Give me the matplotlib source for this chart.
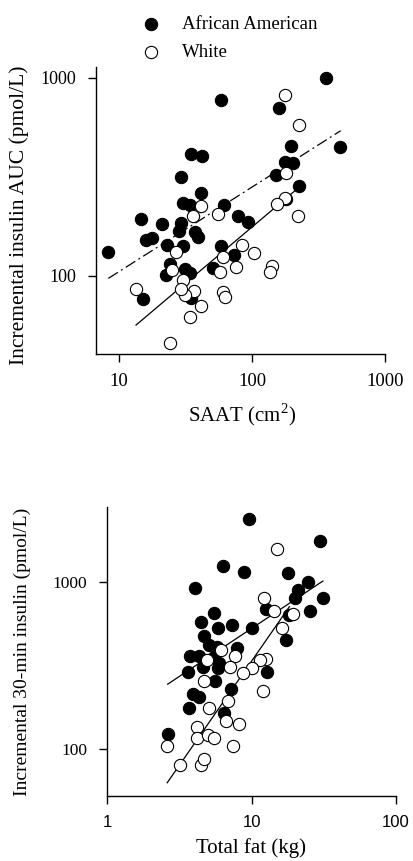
import matplotlib
matplotlib.use("Agg")
import matplotlib.pyplot as plt
from matplotlib.ticker import FixedLocator, FixedFormatter, NullLocator

# ---------------- data: top panel (SAAT vs incremental insulin AUC) ----------------
aa_saat = [358, 58, 160, 460, 195, 35, 42, 177, 202, 151, 29, 227, 41, 180, 30, 34, 62,
           79, 94, 14.5, 21, 29, 28, 37.5, 39, 16, 17.7, 23, 30, 8.3, 58, 73, 24, 22.5,
           31.5, 34, 51, 15, 35]
aa_auc = [1000, 770, 700, 445, 450, 410, 400, 377, 372, 323, 314, 284, 262, 243, 232, 228,
          228, 200, 187, 193, 182, 185, 169, 167, 157, 151, 155, 143, 141, 132, 141, 127,
          115, 101, 108, 103, 110, 76, 77]
w_saat = [177, 227, 180, 177, 153, 223, 41, 36, 55, 27, 84, 104, 60, 76, 141, 136, 57, 25,
          30, 13.4, 36.5, 31.5, 29, 60, 63, 41, 34, 24]
w_auc = [820, 577, 330, 247, 230, 201, 225, 200, 205, 132, 143, 131, 125, 111, 112, 104,
         105, 107, 95, 86, 84, 80, 86, 83, 78, 70, 62, 46]
# regression lines
top_aa_fit_x = [8.3, 464]
top_aa_fit_y = [97, 539]
top_w_fit_x = [13.4, 218]
top_w_fit_y = [56.4, 274]

# ---------------- data: bottom panel (total fat vs 30-min insulin) ----------------
aa_fat = [9.6, 30, 6.4, 8.9, 17.8, 4.06, 24.7, 20.9, 19.9, 31, 25.6, 12.6, 18.1, 5.5, 4.45,
          5.85, 7.3, 10, 17.3, 4.67, 5.1, 5.8, 8.0, 3.75, 4.36, 5.54, 6.0, 4.65, 5.9, 3.62,
          5.63, 12.9, 7.2, 3.92, 4.3, 3.67, 6.43, 2.66]
aa_ins30 = [2390, 1770, 1260, 1150, 1140, 930, 1010, 905, 800, 810, 675, 695, 637, 652, 580,
            532, 552, 530, 450, 476, 421, 411, 401, 364, 361, 358, 330, 312, 305, 291,
            256, 291, 228, 215, 206, 177, 164, 123]
w_fat = [15, 12.25, 14.3, 19.5, 16.2, 6.17, 7.7, 4.96, 7.15, 12.6, 11.5, 10.1, 8.8, 4.67,
         12, 6.85, 5.08, 6.64, 8.15, 4.19, 4.17, 5.03, 5.54, 7.4, 2.59, 3.2, 4.48, 4.72]
w_ins30 = [1590, 810, 670, 648, 535, 393, 360, 342, 310, 348, 344, 305, 285, 255, 223, 195,
           176, 147, 142, 135, 116, 121, 116, 104, 104, 80, 80, 87]
bot_aa_fit_x = [2.63, 31.2]
bot_aa_fit_y = [245, 1018]
bot_w_fit_x = [2.61, 18.3]
bot_w_fit_y = [62.8, 715]

# ---------------- labels ----------------
legend_labels = ["African American", "White"]
top_xlabel = "SAAT (cm$^2$)"
top_ylabel = "Incremental insulin AUC (pmol/L)"
bot_xlabel = "Total fat (kg)"
bot_ylabel = "Incremental 30-min insulin (pmol/L)"
top_xticks = [10, 100, 1000]
top_yticks = [100, 1000]
bot_xticks = [1, 10, 100]
bot_yticks = [100, 1000]

SERIF = ["Liberation Serif", "DejaVu Serif"]
SANS = ["Liberation Sans", "DejaVu Sans"]
plt.rcParams["font.family"] = SERIF
plt.rcParams["mathtext.fontset"] = "custom"
plt.rcParams["mathtext.rm"] = "Liberation Serif"

W, H = 413, 861
fig = plt.figure(figsize=(W / 100, H / 100), dpi=100)


def px_axes(left, top, right, bottom):
    return fig.add_axes([left / W, 1 - bottom / H, (right - left) / W, (bottom - top) / H])


MS = 78
LW_EDGE = 0.8


def style(ax, xt, yt, xfont, yfont, xsize, ysize):
    for s in ("top", "right"):
        ax.spines[s].set_visible(False)
    for s in ("left", "bottom"):
        ax.spines[s].set_linewidth(1.0)
    ax.set_xscale("log")
    ax.set_yscale("log")
    ax.xaxis.set_major_locator(FixedLocator(xt))
    ax.xaxis.set_major_formatter(FixedFormatter([str(v) for v in xt]))
    ax.yaxis.set_major_locator(FixedLocator(yt))
    ax.yaxis.set_major_formatter(FixedFormatter([str(v) for v in yt]))
    ax.xaxis.set_minor_locator(NullLocator())
    ax.yaxis.set_minor_locator(NullLocator())
    ax.tick_params(axis="both", direction="out", length=6, width=1.0)
    ax.tick_params(axis="x", labelsize=xsize)
    ax.tick_params(axis="y", labelsize=ysize)
    for lab in ax.get_xticklabels():
        lab.set_family(xfont)
    for lab in ax.get_yticklabels():
        lab.set_family(yfont)


# ---------------- top panel ----------------
ax1 = px_axes(96, 67, 385, 354)
ax1.plot(top_aa_fit_x, top_aa_fit_y, color="black", lw=0.9,
         linestyle=(0, (9, 3, 1.5, 3)), zorder=1)
ax1.plot(top_w_fit_x, top_w_fit_y, color="black", lw=0.9, linestyle="-", zorder=1)
h_aa = ax1.scatter(aa_saat, aa_auc, s=MS, c="black", edgecolors="black",
                   linewidths=LW_EDGE, zorder=3, label=legend_labels[0])
h_w = ax1.scatter(w_saat, w_auc, s=MS, c="white", edgecolors="black",
                  linewidths=LW_EDGE, zorder=4, label=legend_labels[1])
ax1.set_xlim(6.7, 1000)
ax1.set_ylim(40.3, 1130)
style(ax1, top_xticks, top_yticks, SERIF, SERIF, 13.5, 13)
ax1.tick_params(axis="x", pad=7.5)
ax1.tick_params(axis="y", pad=8)
ax1.set_xlabel(top_xlabel, fontsize=15)
ax1.set_ylabel(top_ylabel, fontsize=15.5)
ax1.xaxis.set_label_coords((241.7 - 96) / 289, (354 - 415) / 287)
ax1.xaxis.label.set_va("center")
ax1.yaxis.set_label_coords((19 - 96) / 289, (354 - 215) / 287)
ax1.yaxis.label.set_va("center")

fig.legend(handles=[h_aa, h_w], labels=legend_labels, loc="upper left",
           bbox_to_anchor=(142 / W, 1 - 16 / H), frameon=False, fontsize=13.5,
           handlelength=1.0, handletextpad=1.15, borderpad=0, borderaxespad=0,
           labelspacing=0.55)

# ---------------- bottom panel ----------------
ax2 = px_axes(107, 507, 396, 796)
ax2.plot(bot_aa_fit_x, bot_aa_fit_y, color="black", lw=0.9, linestyle="-", zorder=1)
ax2.plot(bot_w_fit_x, bot_w_fit_y, color="black", lw=0.9, linestyle="-", zorder=1)
ax2.scatter(aa_fat, aa_ins30, s=MS, c="black", edgecolors="black",
            linewidths=LW_EDGE, zorder=3)
ax2.scatter(w_fat, w_ins30, s=MS, c="white", edgecolors="black",
            linewidths=LW_EDGE, zorder=4)
ax2.set_xlim(1, 100)
ax2.set_ylim(52.3, 2830)
style(ax2, bot_xticks, bot_yticks, SANS, SERIF, 12, 12.5)
ax2.tick_params(axis="x", pad=8)
ax2.tick_params(axis="y", pad=8)
ax2.set_xlabel(bot_xlabel, fontsize=15)
ax2.set_ylabel(bot_ylabel, fontsize=14)
ax2.xaxis.set_label_coords((251 - 107) / 289, (796 - 848) / 289)
ax2.xaxis.label.set_va("center")
ax2.yaxis.set_label_coords((22 - 107) / 289, 0.5)
ax2.yaxis.label.set_va("center")

fig.savefig("out.png", dpi=100)
